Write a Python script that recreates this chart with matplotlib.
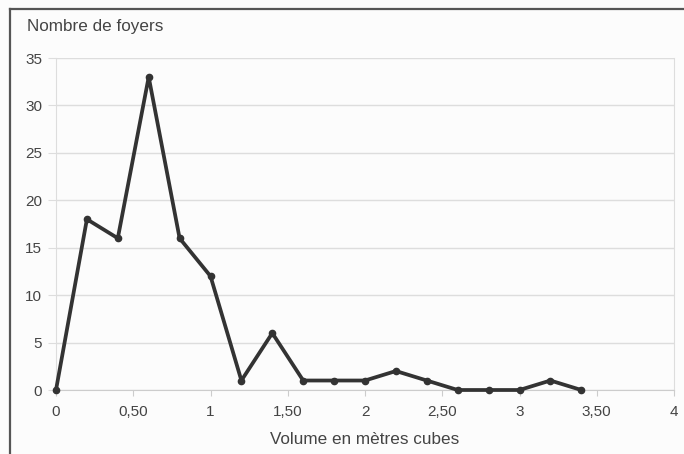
import matplotlib.pyplot as plt
from matplotlib.lines import Line2D

volumes = [0, 0.2, 0.4, 0.6, 0.8, 1.0, 1.2, 1.4, 1.6, 1.8, 2.0, 2.2, 2.4, 2.6, 2.8, 3.0, 3.2, 3.4]
foyers = [0, 18, 16, 33, 16, 12, 1, 6, 1, 1, 1, 2, 1, 0, 0, 0, 1, 0]
x_ticks = [0, 0.5, 1, 1.5, 2, 2.5, 3, 3.5, 4]
x_labels = ["0", "0,50", "1", "1,50", "2", "2,50", "3", "3,50", "4"]
y_ticks = [0, 5, 10, 15, 20, 25, 30, 35]

plt.rcParams['font.family'] = ['Liberation Sans', 'DejaVu Sans']
txt = "#444444"

fig = plt.figure(figsize=(6.84, 4.54), dpi=100, facecolor="#fcfcfc")
ax = fig.add_axes([56 / 684, 1 - 390 / 454, 618 / 684, 332 / 454])
ax.set_facecolor("#fcfcfc")

ax.plot(volumes, foyers, color="#333333", lw=2.7, marker="o", ms=4.5,
        clip_on=False, zorder=3)

ax.set_xlim(0, 4)
ax.set_ylim(0, 35)
ax.set_xticks(x_ticks)
ax.set_xticklabels(x_labels)
ax.set_yticks(y_ticks)
ax.grid(axis="y", color="#dddddd", lw=1)
ax.tick_params(axis="x", length=4, color="#cccccc", labelsize=11, labelcolor=txt, pad=7)
ax.tick_params(axis="y", length=6, color="#dddddd", labelsize=11, labelcolor=txt, pad=4)
ax.spines["top"].set_visible(False)
ax.spines["left"].set_color("#dddddd")
ax.spines["right"].set_color("#dddddd")
ax.spines["bottom"].set_color("#cccccc")

fig.text(27 / 684, 1 - 27 / 454, "Nombre de foyers", fontsize=12.3, color=txt,
         ha="left", va="center")
fig.text(365 / 684, 1 - 440 / 454, "Volume en mètres cubes", fontsize=12.3, color=txt,
         ha="center", va="center")

# cadre de l'image
fig.add_artist(Line2D([10 / 684, 1], [1 - 9 / 454] * 2, color="#555555", lw=1.6))
fig.add_artist(Line2D([10 / 684] * 2, [0, 1 - 9 / 454], color="#555555", lw=1.6))

fig.savefig("out.png", dpi=100, facecolor=fig.get_facecolor())
